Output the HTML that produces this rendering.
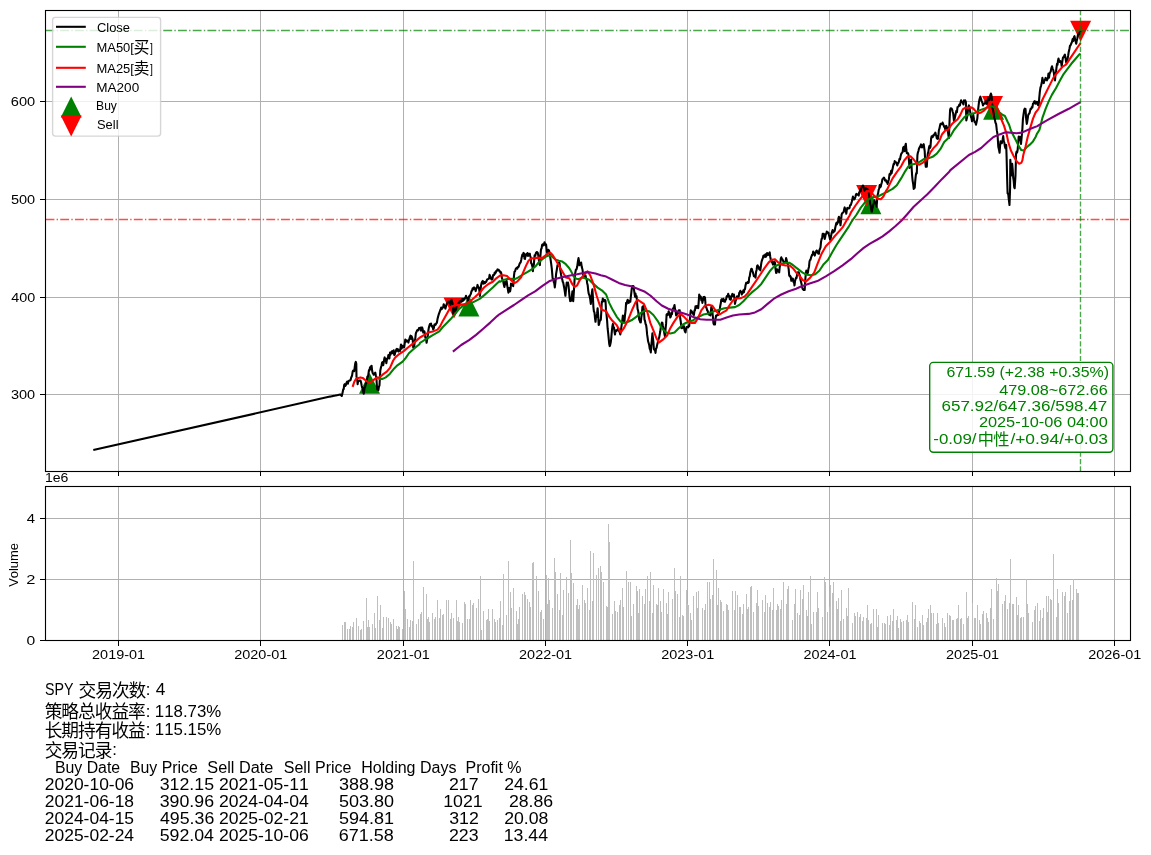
<!DOCTYPE html><html><head><meta charset="utf-8"><style>html,body{margin:0;padding:0;background:#fff}svg{display:block;will-change:transform}</style></head><body><svg width="1151" height="855" viewBox="0 0 1151 855" font-family="Liberation Sans, sans-serif" style="font-kerning:none">
<rect width="1151" height="855" fill="#fff"/>
<defs><clipPath id="c1"><rect x="46" y="11" width="1084" height="460.5"/></clipPath><clipPath id="c2"><rect x="46" y="487" width="1084" height="153"/></clipPath></defs>
<g clip-path="url(#c1)">
<line x1="118.5" y1="10" x2="118.5" y2="471" stroke="#b0b0b0" stroke-width="1" shape-rendering="crispEdges"/>
<line x1="260.5" y1="10" x2="260.5" y2="471" stroke="#b0b0b0" stroke-width="1" shape-rendering="crispEdges"/>
<line x1="403.5" y1="10" x2="403.5" y2="471" stroke="#b0b0b0" stroke-width="1" shape-rendering="crispEdges"/>
<line x1="545.5" y1="10" x2="545.5" y2="471" stroke="#b0b0b0" stroke-width="1" shape-rendering="crispEdges"/>
<line x1="687.5" y1="10" x2="687.5" y2="471" stroke="#b0b0b0" stroke-width="1" shape-rendering="crispEdges"/>
<line x1="829.5" y1="10" x2="829.5" y2="471" stroke="#b0b0b0" stroke-width="1" shape-rendering="crispEdges"/>
<line x1="972.5" y1="10" x2="972.5" y2="471" stroke="#b0b0b0" stroke-width="1" shape-rendering="crispEdges"/>
<line x1="1114.5" y1="10" x2="1114.5" y2="471" stroke="#b0b0b0" stroke-width="1" shape-rendering="crispEdges"/>
<line x1="45" y1="101.5" x2="1131" y2="101.5" stroke="#b0b0b0" stroke-width="1" shape-rendering="crispEdges"/>
<line x1="45" y1="199.5" x2="1131" y2="199.5" stroke="#b0b0b0" stroke-width="1" shape-rendering="crispEdges"/>
<line x1="45" y1="297.5" x2="1131" y2="297.5" stroke="#b0b0b0" stroke-width="1" shape-rendering="crispEdges"/>
<line x1="45" y1="394.5" x2="1131" y2="394.5" stroke="#b0b0b0" stroke-width="1" shape-rendering="crispEdges"/>
<polygon points="369.5,372.7 359.0,393.7 380.0,393.7" fill="#008000"/>
<polygon points="468.9,295.5 458.4,316.5 479.4,316.5" fill="#008000"/>
<polygon points="870.9,193.3 860.4,214.3 881.4,214.3" fill="#008000"/>
<polygon points="993.6,98.7 983.1,119.7 1004.1,119.7" fill="#008000"/>
<polygon points="454.0,318.5 443.5,297.5 464.5,297.5" fill="#ff0000"/>
<polygon points="866.6,206.1 856.1,185.1 877.1,185.1" fill="#ff0000"/>
<polygon points="992.5,117.0 982.0,96.0 1003.0,96.0" fill="#ff0000"/>
<polygon points="1080.6,41.8 1070.1,20.8 1091.1,20.8" fill="#ff0000"/>
<path d="M93.3,450.1 L330.0,396.6 L330.6,396.5 L331.1,396.4 L331.7,396.3 L332.2,396.2 L332.8,396.0 L333.3,395.9 L333.9,395.8 L334.4,395.7 L335.0,395.6 L335.5,395.5 L336.1,395.4 L336.6,395.3 L337.2,395.2 L337.7,395.1 L338.3,394.9 L338.8,394.8 L339.4,394.7 L339.9,394.6 L340.5,394.5 L341.1,395.2 L341.8,396.0 L342.5,392.9 L343.2,389.5 L343.7,389.2 L344.2,384.8 L344.7,384.2 L345.2,385.9 L345.8,385.3 L346.3,383.4 L346.8,382.1 L347.3,381.5 L347.9,383.7 L348.4,381.3 L349.0,380.8 L349.5,380.5 L350.0,380.5 L350.6,380.0 L351.1,377.7 L351.6,376.8 L352.1,375.4 L352.7,371.4 L353.2,370.5 L353.7,370.4 L354.2,371.1 L354.8,366.6 L355.3,363.2 L355.8,361.9 L356.3,363.7 L356.5,376.8 L357.1,378.7 L357.6,384.2 L358.2,380.7 L358.9,381.1 L359.4,380.6 L360.0,380.5 L360.5,380.5 L361.1,382.5 L361.6,385.3 L362.1,387.5 L362.6,387.9 L363.2,391.5 L363.7,393.7 L364.2,390.8 L364.7,387.4 L365.2,386.9 L365.8,383.6 L366.3,383.2 L366.8,380.6 L367.4,376.5 L367.9,376.8 L368.4,374.1 L369.0,370.0 L369.5,370.5 L370.0,367.4 L370.6,369.0 L371.1,366.3 L371.6,365.8 L372.1,370.5 L372.6,372.9 L373.2,373.7 L373.7,374.7 L374.2,373.6 L374.8,373.9 L375.3,372.6 L375.8,375.3 L376.3,376.8 L376.8,384.4 L377.2,389.5 L377.8,389.5 L378.4,390.0 L378.9,386.9 L379.5,385.3 L380.3,370.5 L381.0,367.2 L381.6,365.3 L382.1,362.5 L382.6,362.1 L383.2,365.3 L383.7,362.6 L384.2,359.1 L384.7,357.4 L385.2,360.6 L385.8,359.0 L386.3,363.2 L386.9,359.7 L387.4,358.9 L387.9,357.1 L388.4,355.0 L388.9,356.8 L389.4,358.4 L390.0,352.5 L390.5,354.7 L391.0,353.2 L391.6,351.7 L392.1,351.1 L392.6,353.3 L393.2,351.6 L393.7,350.3 L394.2,355.0 L394.7,354.7 L395.2,352.4 L395.8,351.6 L396.3,349.5 L396.8,348.9 L397.3,350.6 L397.9,349.3 L398.4,351.6 L398.9,350.6 L399.4,350.2 L400.0,351.0 L400.5,347.9 L401.0,344.5 L401.6,348.7 L402.1,347.5 L402.6,345.8 L403.1,345.8 L403.7,347.2 L404.2,347.4 L404.8,342.9 L405.3,339.5 L405.8,341.9 L406.4,340.6 L406.9,340.4 L407.4,341.1 L407.9,341.6 L408.4,342.6 L408.9,340.4 L409.5,338.5 L410.0,336.8 L410.5,335.6 L411.1,338.9 L411.6,336.3 L412.1,337.7 L412.7,339.4 L413.2,347.4 L413.7,346.7 L414.2,346.3 L414.7,341.9 L415.3,338.3 L415.8,333.7 L416.3,332.2 L416.9,331.1 L417.4,330.0 L417.9,329.9 L418.4,330.3 L419.0,328.1 L419.5,328.2 L420.0,327.9 L420.5,327.6 L421.0,330.6 L421.6,329.1 L422.1,327.4 L422.6,328.8 L423.2,332.5 L423.8,331.5 L424.4,331.4 L424.9,333.7 L425.3,337.5 L426.0,338.7 L426.6,342.8 L427.2,339.2 L427.9,334.9 L428.4,330.4 L428.8,327.9 L429.4,325.5 L429.9,324.1 L430.4,324.0 L431.0,323.5 L431.6,326.4 L432.1,326.0 L432.6,326.3 L433.2,329.6 L433.9,327.8 L434.5,324.4 L435.1,324.2 L435.6,324.8 L436.2,323.5 L436.9,322.7 L437.5,319.1 L438.2,316.3 L438.9,313.9 L439.5,312.3 L440.0,310.9 L440.6,309.5 L441.2,307.5 L441.8,309.1 L442.4,307.7 L443.0,307.6 L443.7,304.2 L444.3,305.9 L444.8,306.8 L445.4,308.6 L446.0,306.5 L446.6,304.1 L447.2,303.3 L447.8,301.8 L448.3,301.7 L448.9,301.6 L449.4,301.8 L449.8,303.4 L450.3,305.1 L451.0,300.6 L451.6,299.8 L452.1,302.0 L452.6,303.3 L453.3,313.9 L454.0,310.9 L454.6,307.7 L455.3,308.1 L456.0,311.2 L456.6,305.4 L457.3,305.1 L458.0,304.0 L458.6,302.9 L459.1,303.9 L459.6,301.3 L460.2,301.2 L460.7,300.8 L461.2,301.1 L461.7,301.4 L462.3,299.1 L462.8,301.0 L463.4,299.0 L463.9,298.9 L464.4,299.7 L464.9,298.3 L465.5,297.6 L466.0,295.8 L466.5,297.2 L467.1,298.1 L467.8,300.7 L468.5,298.2 L469.1,296.3 L469.7,296.2 L470.3,294.9 L470.9,293.7 L471.5,291.1 L472.0,290.7 L472.6,288.4 L473.2,289.3 L473.8,287.6 L474.4,287.5 L475.0,288.8 L475.7,291.1 L476.3,288.6 L476.9,287.9 L477.5,284.9 L478.1,286.8 L478.8,287.5 L479.4,290.6 L479.9,295.9 L480.4,291.3 L481.0,285.8 L481.6,283.0 L482.3,281.4 L482.8,280.9 L483.3,283.6 L483.9,283.5 L484.4,282.0 L484.9,283.2 L485.5,282.4 L486.1,282.0 L486.7,280.5 L487.3,279.2 L487.8,279.2 L488.4,278.8 L489.0,278.7 L489.6,274.9 L490.2,276.1 L490.8,277.7 L491.3,279.3 L491.9,279.6 L492.5,278.8 L493.1,275.1 L493.7,275.3 L494.2,274.8 L494.7,272.5 L495.3,273.3 L495.8,272.5 L496.3,270.9 L496.9,270.9 L497.5,269.4 L498.1,270.0 L498.8,269.9 L499.4,271.3 L500.0,271.2 L500.4,272.7 L500.9,272.1 L501.4,273.7 L501.8,277.4 L502.5,279.7 L503.1,280.9 L503.8,284.6 L504.4,287.0 L504.9,284.1 L505.3,281.8 L506.0,284.2 L506.6,280.9 L507.2,285.3 L507.9,289.6 L508.4,292.6 L509.0,288.1 L509.6,288.3 L510.1,291.4 L510.6,288.6 L511.0,283.5 L511.6,284.9 L512.1,284.4 L512.7,285.4 L513.2,286.1 L514.0,275.6 L514.5,271.6 L515.1,271.3 L515.7,269.1 L516.2,268.6 L516.7,267.8 L517.3,268.6 L517.8,267.1 L518.4,267.0 L518.9,266.0 L519.5,264.0 L520.0,263.1 L520.6,262.5 L521.2,260.0 L521.8,256.9 L522.4,254.6 L523.0,255.8 L523.5,252.9 L524.1,253.7 L524.5,258.6 L525.0,258.9 L525.6,255.3 L526.3,254.1 L526.9,255.3 L527.5,253.0 L528.0,255.9 L528.6,254.0 L529.2,254.2 L529.8,253.7 L530.2,256.3 L530.7,257.2 L531.1,263.3 L531.5,263.4 L532.0,265.1 L532.5,266.9 L532.9,271.2 L533.3,265.7 L533.8,265.1 L534.6,255.4 L535.3,255.6 L536.0,252.8 L536.6,252.0 L537.1,252.1 L537.7,252.8 L538.2,255.0 L538.6,257.2 L539.2,263.5 L539.9,265.1 L540.5,254.6 L541.0,249.3 L541.6,248.4 L542.1,244.9 L542.7,244.3 L543.3,245.3 L543.9,244.5 L544.5,242.3 L545.0,244.0 L545.5,245.5 L546.1,244.5 L546.9,251.9 L547.5,253.4 L548.0,253.2 L548.5,249.9 L549.1,250.6 L549.8,254.4 L550.4,258.1 L551.1,263.2 L551.8,268.6 L552.6,278.2 L553.2,278.7 L553.9,282.6 L554.3,283.3 L554.8,287.5 L555.5,281.6 L556.1,273.9 L556.8,269.8 L557.5,265.1 L558.0,264.5 L558.5,265.7 L559.1,262.5 L559.6,263.3 L560.0,267.9 L560.5,271.2 L561.1,274.7 L561.8,278.2 L562.3,279.6 L562.7,281.7 L563.2,282.6 L563.9,286.3 L564.5,289.6 L565.0,293.0 L565.4,295.8 L566.0,289.5 L566.7,282.6 L567.4,284.9 L568.0,282.6 L568.5,285.7 L568.9,289.6 L569.5,296.6 L570.2,301.1 L570.9,300.9 L571.5,299.3 L572.0,294.9 L572.4,291.4 L573.2,301.1 L573.9,291.1 L574.6,279.1 L575.2,273.3 L575.9,269.5 L576.5,269.5 L577.2,266.8 L577.9,261.5 L578.5,258.1 L579.0,261.0 L579.4,265.1 L580.0,264.6 L580.5,264.4 L581.1,262.5 L581.8,267.1 L582.5,269.5 L583.1,274.5 L583.8,277.4 L584.4,276.2 L585.0,275.5 L585.5,275.4 L586.1,278.3 L586.6,278.7 L587.1,282.9 L587.7,285.3 L588.2,290.3 L588.7,293.6 L589.2,294.7 L589.7,296.6 L590.2,299.1 L590.8,303.9 L591.3,299.5 L591.9,292.5 L592.4,289.2 L592.9,297.1 L593.4,307.1 L593.9,311.3 L594.5,312.6 L595.0,318.2 L595.5,321.8 L596.0,317.4 L596.6,317.1 L597.1,313.4 L597.6,308.2 L598.2,315.7 L598.7,325.0 L599.2,323.9 L599.8,320.5 L600.3,320.6 L600.8,319.7 L601.3,311.9 L601.8,301.8 L602.3,301.8 L602.8,298.5 L603.4,301.3 L603.9,299.7 L604.4,301.1 L605.0,300.0 L605.5,300.8 L606.0,309.9 L606.6,315.5 L607.1,320.6 L607.6,328.2 L608.2,333.3 L608.7,338.7 L609.2,343.7 L609.7,346.1 L610.2,344.8 L610.8,342.0 L611.3,337.6 L611.8,331.7 L612.4,326.3 L612.9,323.9 L613.4,327.0 L614.0,327.5 L614.5,331.7 L615.0,334.5 L615.5,330.9 L616.1,330.3 L616.6,331.0 L617.2,330.2 L617.7,329.4 L618.2,328.2 L618.7,329.8 L619.2,331.4 L619.8,332.6 L620.3,334.5 L620.8,331.4 L621.3,327.7 L621.8,323.9 L622.3,320.3 L622.9,315.5 L623.4,316.8 L624.0,321.3 L624.5,320.8 L625.0,315.2 L625.6,310.5 L626.1,302.9 L626.6,304.1 L627.2,301.0 L627.7,299.7 L628.2,301.3 L628.7,302.9 L629.2,301.1 L629.8,301.8 L630.3,301.8 L630.8,297.0 L631.3,292.9 L631.8,288.2 L632.3,286.1 L632.9,286.7 L633.4,286.1 L633.9,289.0 L634.5,293.1 L635.0,296.6 L635.5,293.6 L636.1,297.3 L636.6,296.1 L637.1,303.0 L637.6,309.2 L638.1,310.6 L638.7,315.3 L639.2,319.7 L639.7,320.6 L640.3,322.3 L640.8,322.4 L641.3,317.3 L641.9,313.9 L642.4,307.1 L642.9,306.6 L643.4,306.1 L644.0,311.7 L644.5,319.7 L645.0,320.7 L645.6,324.1 L646.1,325.0 L646.6,328.5 L647.1,334.4 L647.6,337.6 L648.1,341.3 L648.7,343.2 L649.2,345.0 L649.7,348.7 L650.3,349.7 L650.8,352.4 L651.3,346.1 L651.9,339.0 L652.4,333.4 L652.9,337.9 L653.4,342.1 L653.9,349.2 L654.4,349.8 L655.0,350.4 L655.5,352.9 L656.0,348.6 L656.6,347.8 L657.1,345.0 L657.6,343.4 L658.2,340.4 L658.7,338.7 L659.2,337.4 L659.8,334.0 L660.3,331.3 L660.8,327.1 L661.3,325.0 L661.9,322.5 L662.4,322.9 L662.9,326.0 L663.4,328.2 L663.9,330.3 L664.5,334.3 L665.0,336.6 L665.5,329.7 L666.1,323.4 L666.6,314.5 L667.1,314.0 L667.6,315.1 L668.2,313.1 L668.7,311.2 L669.2,313.9 L669.7,314.3 L670.3,317.5 L670.8,316.6 L671.3,312.8 L671.9,314.3 L672.4,311.3 L672.9,308.9 L673.5,307.7 L674.0,306.6 L674.5,305.0 L675.0,308.8 L675.6,310.8 L676.1,315.5 L676.6,314.6 L677.1,314.0 L677.6,312.4 L678.1,312.9 L678.7,310.4 L679.2,312.7 L679.7,310.3 L680.2,318.3 L680.8,321.8 L681.3,327.9 L681.8,328.2 L682.3,326.2 L682.9,327.7 L683.4,327.1 L683.9,326.2 L684.5,330.2 L685.0,331.7 L685.5,332.4 L686.0,329.3 L686.6,327.0 L687.1,327.1 L687.6,327.1 L688.2,327.4 L688.7,325.4 L689.2,326.1 L689.8,320.0 L690.3,314.5 L690.8,310.4 L691.3,311.5 L691.8,311.3 L692.3,312.5 L692.9,313.6 L693.4,314.5 L693.9,315.0 L694.5,310.3 L695.0,310.3 L695.5,306.2 L696.1,308.0 L696.6,306.1 L697.1,306.1 L697.7,307.8 L698.2,308.2 L698.7,302.2 L699.2,294.5 L699.7,295.9 L700.3,297.6 L700.8,296.6 L701.3,300.3 L701.9,298.8 L702.4,302.9 L702.9,299.9 L703.4,297.1 L703.9,299.7 L704.5,296.9 L705.0,297.6 L705.5,303.9 L706.0,307.2 L706.6,308.1 L707.1,310.3 L707.6,310.5 L708.2,313.6 L708.7,312.4 L709.2,314.7 L709.8,314.2 L710.3,315.5 L710.8,312.4 L711.3,307.1 L711.8,308.2 L712.4,312.4 L712.9,316.8 L713.4,322.9 L713.9,324.5 L714.5,324.0 L715.0,324.5 L715.5,318.7 L716.1,315.5 L716.6,315.7 L717.1,315.2 L717.6,314.5 L718.1,315.0 L718.7,313.5 L719.2,311.0 L719.7,310.3 L720.2,306.2 L720.8,303.1 L721.3,299.7 L721.8,299.2 L722.3,301.0 L722.9,300.9 L723.4,298.7 L723.9,301.4 L724.5,301.2 L725.0,301.8 L725.5,299.8 L726.1,299.4 L726.6,296.6 L727.1,295.9 L727.7,296.3 L728.2,293.8 L728.7,295.5 L729.2,296.0 L729.8,299.3 L730.3,297.4 L730.8,299.7 L731.3,296.0 L731.9,295.6 L732.4,293.9 L732.9,296.1 L733.4,296.0 L733.9,294.5 L734.5,298.8 L735.0,303.9 L735.5,301.2 L736.1,299.6 L736.6,297.6 L737.1,296.2 L737.7,297.1 L738.2,296.5 L738.7,296.6 L739.2,292.9 L739.8,292.0 L740.3,290.8 L740.8,291.7 L741.3,292.2 L741.8,294.5 L742.3,291.8 L742.9,292.8 L743.4,290.3 L743.9,292.2 L744.5,289.2 L745.0,289.2 L745.5,285.5 L746.1,282.9 L746.6,283.5 L747.2,282.6 L747.7,282.0 L748.2,282.9 L748.7,282.5 L749.2,277.5 L749.7,276.6 L750.2,273.1 L750.8,270.5 L751.3,268.7 L751.8,268.9 L752.4,270.9 L752.9,272.4 L753.4,274.1 L753.9,276.2 L754.5,276.3 L755.0,276.6 L755.5,277.6 L756.0,272.3 L756.6,269.9 L757.1,266.1 L757.6,265.3 L758.2,266.6 L758.7,267.1 L759.2,269.3 L759.8,269.5 L760.3,270.3 L760.8,266.9 L761.3,263.1 L761.8,260.8 L762.3,259.4 L762.8,258.3 L763.4,255.7 L763.9,255.5 L764.5,255.2 L765.0,257.1 L765.5,254.3 L766.1,256.6 L766.6,255.0 L767.1,253.1 L767.6,253.4 L768.1,255.0 L768.7,253.6 L769.2,253.3 L769.7,252.4 L770.2,256.5 L770.8,259.7 L771.3,261.2 L771.8,262.5 L772.4,261.4 L772.9,264.5 L773.4,264.4 L774.0,264.4 L774.5,261.6 L775.0,262.9 L775.5,268.9 L776.1,272.9 L776.6,272.8 L777.1,269.3 L777.6,270.3 L778.1,270.4 L778.7,271.3 L779.2,272.4 L779.7,267.2 L780.3,263.7 L780.8,258.7 L781.3,257.3 L781.9,258.8 L782.4,259.2 L782.9,260.4 L783.5,261.9 L784.0,262.0 L784.5,262.9 L785.0,261.8 L785.5,262.1 L786.1,258.1 L786.6,259.7 L787.1,263.0 L787.7,263.6 L788.2,266.1 L788.7,269.3 L789.2,275.5 L789.7,276.3 L790.2,275.9 L790.8,277.0 L791.3,280.8 L791.8,279.7 L792.4,278.5 L792.9,278.7 L793.4,281.8 L794.0,282.2 L794.5,285.5 L795.0,281.3 L795.6,279.1 L796.1,277.6 L796.6,277.9 L797.1,274.2 L797.6,272.4 L798.1,272.2 L798.7,272.2 L799.2,273.9 L799.9,275.6 L800.5,280.0 L801.0,281.7 L801.6,284.3 L802.1,287.1 L802.7,289.0 L803.2,289.5 L803.7,290.0 L804.2,289.0 L804.7,290.0 L805.2,280.8 L805.8,273.7 L806.3,270.6 L806.8,271.9 L807.4,273.4 L807.9,272.6 L808.4,269.0 L809.0,266.7 L809.5,261.5 L810.0,260.0 L810.5,259.8 L811.0,257.7 L811.6,256.1 L812.1,254.7 L812.6,254.9 L813.2,251.5 L813.7,253.3 L814.2,252.6 L814.8,255.6 L815.3,253.2 L815.8,252.1 L816.3,250.8 L816.8,250.5 L817.3,252.6 L817.9,251.4 L818.4,253.7 L818.9,253.8 L819.5,249.7 L820.0,248.9 L820.5,247.4 L821.0,242.1 L821.6,238.9 L822.1,238.6 L822.7,233.7 L823.2,235.8 L823.7,233.7 L824.2,235.3 L824.7,238.9 L825.2,237.1 L825.8,233.9 L826.3,233.7 L826.8,231.6 L827.3,232.2 L827.9,233.0 L828.4,232.6 L828.9,234.8 L829.5,237.0 L830.0,239.3 L830.5,240.0 L831.0,236.7 L831.6,233.0 L832.1,231.6 L832.6,230.1 L833.2,232.4 L833.7,231.1 L834.2,231.6 L834.7,230.8 L835.3,227.5 L835.8,225.3 L836.3,223.0 L836.9,224.3 L837.4,222.1 L837.9,222.7 L838.4,218.3 L838.9,216.8 L839.4,218.5 L840.0,221.5 L840.5,225.3 L841.0,221.1 L841.6,214.7 L842.1,213.3 L842.7,212.8 L843.2,212.6 L843.7,211.7 L844.2,209.1 L844.7,207.4 L845.2,209.6 L845.8,210.9 L846.3,213.7 L846.8,210.0 L847.4,207.9 L847.9,208.3 L848.4,208.4 L848.9,208.4 L849.5,207.9 L850.1,205.3 L850.7,205.1 L851.3,203.4 L851.8,201.7 L852.4,199.0 L852.9,196.6 L853.4,198.2 L854.0,199.5 L854.5,199.2 L855.0,198.1 L855.5,196.6 L856.1,194.1 L856.6,193.9 L857.1,194.7 L857.7,194.6 L858.2,194.7 L858.7,195.5 L859.2,192.2 L859.8,191.7 L860.3,188.7 L860.8,191.1 L861.3,187.9 L861.9,186.9 L862.4,186.7 L862.9,185.5 L863.4,186.6 L864.0,189.1 L864.5,190.8 L865.0,189.1 L865.6,188.3 L866.1,188.2 L866.6,188.9 L867.2,189.2 L867.7,189.2 L868.2,189.7 L868.7,191.9 L869.2,196.1 L869.8,200.6 L870.3,204.5 L870.8,205.6 L871.3,210.3 L871.8,211.8 L872.3,209.0 L872.9,206.9 L873.4,204.5 L874.0,203.3 L874.5,200.3 L875.0,202.0 L875.5,202.4 L876.0,202.9 L876.6,206.6 L877.1,200.5 L877.6,195.0 L878.1,193.3 L878.7,189.5 L879.2,188.7 L879.7,185.1 L880.3,187.2 L880.8,186.6 L881.3,184.1 L881.9,182.2 L882.4,179.2 L882.9,178.8 L883.4,178.3 L883.9,177.6 L884.5,178.6 L885.0,180.6 L885.5,180.2 L886.1,180.3 L886.6,182.2 L887.1,182.2 L887.6,183.9 L888.2,181.6 L888.9,179.2 L889.5,174.2 L890.0,173.7 L890.5,174.6 L891.1,170.9 L891.6,173.2 L892.1,171.0 L892.7,168.2 L893.2,165.8 L893.7,163.7 L894.2,164.2 L894.7,161.1 L895.2,162.2 L895.8,162.2 L896.3,162.4 L896.8,163.7 L897.3,165.4 L897.8,163.5 L898.4,162.9 L898.9,161.6 L899.5,158.8 L900.0,159.5 L900.5,156.7 L901.1,154.2 L901.6,153.2 L902.1,152.7 L902.6,152.1 L903.2,147.5 L903.7,146.8 L904.2,149.7 L904.7,151.1 L905.2,146.1 L905.8,143.7 L906.3,149.5 L906.8,153.2 L907.3,153.0 L907.9,153.1 L908.4,154.2 L909.0,161.5 L909.5,167.9 L910.0,165.4 L910.6,160.9 L911.1,159.5 L911.6,167.3 L912.1,175.3 L912.6,180.6 L913.2,184.1 L913.7,188.9 L914.2,186.8 L914.7,187.9 L915.2,181.3 L915.8,175.3 L916.3,173.1 L916.8,173.2 L917.4,155.3 L917.9,152.5 L918.4,151.1 L918.9,148.9 L919.4,147.8 L920.0,146.6 L920.5,145.8 L921.0,144.4 L921.6,147.3 L922.1,147.4 L922.6,146.1 L923.2,144.8 L923.7,144.2 L924.2,147.8 L924.7,151.1 L925.2,161.3 L925.8,166.8 L926.3,165.3 L926.8,166.8 L927.3,158.1 L927.9,153.2 L928.4,151.6 L929.0,147.3 L929.5,145.8 L930.0,147.9 L930.5,146.8 L931.1,138.4 L931.6,136.4 L932.2,136.3 L932.7,137.1 L933.2,135.3 L933.7,135.7 L934.2,134.5 L934.8,133.8 L935.3,132.6 L935.8,134.4 L936.3,135.9 L936.8,138.4 L937.3,138.4 L937.9,138.9 L938.4,136.0 L938.9,130.0 L939.4,128.7 L940.0,125.8 L940.5,123.7 L941.0,123.8 L941.5,124.1 L942.1,124.3 L942.6,122.6 L943.1,123.8 L943.7,125.3 L944.2,126.8 L944.7,126.9 L945.2,129.4 L945.8,126.3 L946.3,125.8 L946.8,129.1 L947.4,127.5 L947.9,131.1 L948.4,135.5 L948.9,137.9 L949.5,122.2 L950.1,109.8 L950.7,108.2 L951.2,108.4 L951.8,108.9 L952.3,110.2 L952.7,112.0 L953.2,113.3 L954.0,121.2 L954.6,119.0 L955.2,116.2 L955.8,113.3 L956.4,110.7 L956.9,112.3 L957.5,107.2 L958.1,106.8 L958.7,106.3 L959.3,104.6 L959.9,105.5 L960.5,102.8 L961.1,100.2 L961.7,101.8 L962.2,102.3 L962.8,102.8 L963.4,104.5 L964.0,100.4 L964.6,101.1 L965.2,100.4 L965.9,101.9 L966.3,120.4 L967.0,117.5 L967.6,114.2 L968.2,107.4 L968.9,105.4 L969.6,108.0 L970.3,112.5 L970.9,116.7 L971.4,117.8 L972.0,121.2 L972.6,118.3 L973.3,115.1 L974.0,119.4 L974.6,122.1 L975.3,122.0 L976.0,124.7 L976.6,122.0 L977.3,118.6 L977.8,113.0 L978.2,108.9 L978.9,102.8 L979.5,99.3 L980.0,97.7 L980.4,96.7 L981.0,98.8 L981.7,101.1 L982.4,102.8 L983.0,105.4 L983.6,103.8 L984.3,103.7 L985.0,103.5 L985.6,101.1 L986.2,103.8 L986.9,103.7 L987.5,101.3 L988.2,97.5 L988.9,98.7 L989.6,100.2 L990.2,95.6 L990.9,93.6 L991.3,94.6 L991.8,97.5 L992.6,108.9 L993.2,110.7 L993.9,115.1 L994.3,117.5 L994.8,119.5 L995.5,122.8 L996.1,123.9 L996.8,130.2 L997.5,134.4 L998.3,146.7 L999.0,149.7 L999.6,152.8 L1000.0,146.6 L1000.5,141.4 L1001.1,142.5 L1001.8,143.2 L1002.3,141.0 L1002.7,139.2 L1003.2,136.1 L1003.8,141.4 L1004.3,142.4 L1004.9,146.7 L1005.5,148.3 L1006.2,144.9 L1006.6,156.6 L1007.1,177.6 L1007.6,193.4 L1008.2,193.6 L1008.7,198.7 L1009.5,205.0 L1010.1,188.2 L1010.3,159.7 L1010.8,165.5 L1011.3,175.5 L1011.8,167.9 L1012.2,163.9 L1012.7,169.5 L1013.2,177.6 L1013.7,180.9 L1014.2,187.1 L1014.7,188.2 L1015.5,175.5 L1016.1,153.4 L1016.6,151.5 L1017.1,152.6 L1017.6,150.3 L1018.2,143.0 L1018.7,136.6 L1019.2,137.5 L1019.8,136.8 L1020.3,138.7 L1021.0,143.9 L1021.8,135.5 L1022.3,130.2 L1022.9,119.5 L1023.5,114.6 L1024.2,109.8 L1024.8,108.6 L1025.5,108.9 L1026.2,119.1 L1026.8,123.9 L1027.3,121.2 L1027.7,118.5 L1028.2,115.1 L1028.8,114.0 L1029.5,113.3 L1030.1,110.8 L1030.6,108.7 L1031.2,108.9 L1031.8,107.0 L1032.4,107.4 L1033.0,103.7 L1033.6,103.3 L1034.1,101.8 L1034.7,101.1 L1035.4,103.7 L1036.1,103.7 L1036.8,101.7 L1037.4,101.9 L1038.1,105.3 L1038.7,105.4 L1039.2,98.7 L1039.8,92.1 L1040.4,87.9 L1041.1,85.6 L1041.8,82.6 L1042.4,77.9 L1043.1,81.1 L1043.7,83.1 L1044.3,81.0 L1045.0,79.9 L1045.6,77.9 L1046.2,79.5 L1046.9,80.4 L1047.5,79.2 L1048.0,76.9 L1048.5,73.5 L1049.0,77.8 L1049.5,74.1 L1050.1,72.5 L1050.7,71.5 L1051.3,68.4 L1052.0,66.3 L1052.7,68.8 L1053.3,70.2 L1053.9,73.1 L1054.4,78.3 L1055.0,80.5 L1055.5,74.7 L1056.0,71.7 L1056.5,67.6 L1057.0,63.9 L1057.5,64.9 L1058.0,60.6 L1058.5,58.6 L1059.1,60.8 L1059.8,62.0 L1060.4,61.2 L1061.1,62.3 L1061.7,66.3 L1062.3,61.5 L1063.0,57.3 L1063.6,57.3 L1064.3,55.6 L1064.9,54.7 L1065.6,58.4 L1066.2,62.5 L1066.8,61.3 L1067.5,59.3 L1068.1,56.0 L1068.7,51.9 L1069.4,49.0 L1070.0,45.7 L1070.5,45.5 L1071.0,44.1 L1071.5,43.0 L1072.0,41.9 L1072.6,39.1 L1073.2,41.1 L1073.9,37.3 L1074.5,36.1 L1075.1,39.0 L1075.6,41.2 L1076.2,43.8 L1076.7,41.1 L1077.3,38.4 L1077.8,35.4 L1078.4,33.5 L1078.9,34.0 L1079.5,34.1 L1080.0,32.3 L1080.6,30.9" fill="none" stroke="#000" stroke-width="2.08" stroke-linejoin="round" stroke-linecap="butt" />
<path d="M378.4,378.9 L382.6,378.9 L385.8,377.4 L390.0,373.7 L394.2,368.4 L397.4,365.3 L402.6,361.6 L405.8,357.9 L408.9,353.2 L414.2,348.4 L419.5,344.2 L420.0,342.8 L424.4,340.2 L428.8,337.5 L433.2,334.9 L439.3,331.4 L442.8,327.0 L446.3,323.5 L450.7,319.1 L455.1,313.9 L459.5,308.6 L463.9,305.1 L469.1,303.8 L474.4,301.6 L479.6,298.9 L484.0,295.4 L488.4,291.5 L492.8,287.5 L497.2,283.2 L499.4,281.2 L500.0,281.8 L503.5,280.0 L507.0,279.1 L510.5,278.7 L514.9,279.1 L518.4,277.4 L522.8,274.7 L527.2,272.1 L531.6,269.5 L535.1,266.8 L538.6,262.5 L542.1,259.4 L545.6,256.8 L549.1,255.4 L551.8,256.3 L555.3,259.4 L558.8,260.7 L562.3,261.6 L565.8,264.2 L569.3,268.2 L571.5,272.1 L573.7,276.5 L576.3,278.7 L578.9,279.1 L581.6,277.8 L584.2,277.8 L585.0,278.2 L589.2,279.7 L593.4,283.9 L597.6,287.6 L601.8,290.3 L606.1,294.5 L609.2,302.9 L612.4,309.2 L616.6,316.6 L620.8,321.8 L623.9,322.9 L628.2,321.8 L632.4,319.7 L636.6,316.6 L640.8,312.9 L645.0,310.8 L649.2,311.3 L653.4,315.0 L657.6,320.8 L661.8,328.2 L666.1,332.4 L670.3,333.4 L674.5,332.4 L678.7,328.2 L682.9,324.5 L688.2,321.8 L693.4,320.3 L695.0,318.7 L699.2,316.6 L703.4,314.5 L708.7,313.4 L713.9,311.3 L719.2,309.7 L724.5,308.2 L729.7,307.6 L735.0,307.1 L739.2,305.0 L743.4,301.3 L747.6,296.6 L751.8,292.4 L757.1,288.2 L761.3,283.9 L765.5,277.6 L769.7,271.3 L773.4,267.1 L777.1,265.2 L781.3,263.9 L785.5,262.7 L789.2,262.7 L792.9,265.0 L796.1,267.6 L802.6,272.6 L806.8,274.7 L811.1,275.3 L815.3,274.2 L819.5,270.5 L823.7,264.2 L827.9,260.0 L832.1,252.6 L836.3,245.3 L840.5,238.9 L844.7,232.6 L848.9,226.3 L852.4,220.3 L856.6,214.5 L860.8,207.6 L865.0,202.4 L869.2,198.7 L873.4,197.1 L877.6,196.6 L881.8,194.5 L886.1,192.4 L887.6,191.8 L888.4,191.1 L892.6,188.9 L896.8,185.3 L901.1,178.4 L905.3,171.1 L908.4,166.3 L911.6,164.5 L915.8,163.7 L920.0,161.6 L924.2,158.9 L928.4,158.4 L932.6,156.8 L936.8,153.7 L940.5,148.9 L944.2,142.1 L947.4,138.9 L950.5,136.1 L954.0,130.0 L957.5,125.6 L961.1,121.2 L964.6,116.8 L968.1,114.6 L971.6,113.8 L975.1,112.9 L978.6,110.7 L982.1,109.4 L985.6,108.1 L989.1,106.8 L991.8,106.3 L994.4,107.2 L997.0,109.4 L999.6,112.5 L1002.3,114.6 L1004.9,116.0 L1007.6,121.8 L1009.2,125.0 L1010.8,130.3 L1013.4,135.5 L1016.1,140.8 L1018.7,146.1 L1021.3,150.1 L1022.4,150.3 L1023.8,150.6 L1026.4,147.5 L1029.5,144.9 L1033.0,141.4 L1035.6,137.0 L1036.9,133.9 L1039.4,130.0 L1041.1,123.6 L1042.4,117.8 L1045.6,108.8 L1048.8,101.1 L1052.0,94.6 L1055.9,88.2 L1059.7,81.1 L1063.6,74.1 L1067.5,68.9 L1071.3,63.8 L1075.2,59.3 L1079.1,54.7 L1080.6,53.7" fill="none" stroke="#008000" stroke-width="2.08" stroke-linejoin="round" stroke-linecap="butt" />
<path d="M352.6,386.8 L354.2,382.1 L356.3,378.4 L360.5,377.4 L362.6,377.9 L365.8,380.5 L369.5,382.9 L372.1,381.1 L376.3,377.9 L379.5,377.4 L382.6,374.7 L386.8,371.6 L390.0,367.9 L393.2,360.5 L395.3,357.4 L398.4,354.7 L403.7,351.1 L408.9,346.8 L414.2,342.6 L419.5,337.9 L420.0,337.5 L424.4,334.9 L428.8,332.3 L433.2,331.4 L437.5,329.6 L440.2,326.1 L442.8,320.9 L446.3,314.7 L449.8,308.6 L452.5,306.0 L456.8,305.1 L462.1,304.6 L466.5,303.8 L470.9,300.7 L475.3,296.8 L479.6,292.8 L484.0,287.5 L488.4,284.0 L492.8,281.8 L496.3,278.3 L499.4,276.0 L500.0,275.6 L503.5,275.2 L507.0,276.1 L510.5,279.6 L514.5,283.1 L517.5,281.3 L521.1,277.4 L523.7,271.2 L526.3,265.1 L528.5,260.7 L531.1,258.5 L535.1,258.1 L538.6,257.6 L542.1,258.1 L545.6,255.4 L548.2,253.2 L550.4,252.8 L552.6,255.0 L556.1,260.7 L559.6,266.8 L563.2,273.0 L565.8,277.4 L569.3,278.2 L571.9,283.5 L574.6,287.0 L577.2,285.3 L579.8,280.0 L583.3,275.6 L585.0,273.4 L587.6,271.3 L590.3,275.5 L593.4,283.9 L596.6,295.5 L599.7,305.0 L601.8,309.7 L606.1,311.3 L609.2,316.6 L612.4,320.8 L616.6,325.0 L620.8,332.4 L623.9,328.2 L628.2,319.7 L632.4,309.2 L635.5,302.4 L637.6,299.7 L640.8,301.8 L643.9,303.9 L647.1,311.3 L650.3,322.9 L653.4,330.3 L656.6,338.7 L659.2,342.4 L662.9,339.7 L667.1,335.5 L670.3,328.2 L673.4,322.9 L677.6,316.6 L680.3,313.9 L683.9,316.6 L688.2,321.3 L691.3,322.9 L694.5,322.6 L695.0,322.9 L698.2,317.6 L701.3,310.3 L704.5,306.1 L708.7,304.8 L712.4,305.8 L716.1,311.3 L719.7,314.5 L722.9,312.4 L726.6,310.3 L729.7,305.0 L732.9,300.3 L736.1,298.5 L740.3,298.2 L744.5,296.6 L747.6,293.4 L751.8,287.1 L756.1,280.8 L760.3,274.5 L764.5,268.2 L768.7,262.4 L771.8,259.7 L775.0,259.2 L778.2,262.4 L781.3,264.5 L785.5,265.5 L789.7,265.5 L792.9,268.2 L796.1,272.4 L799.2,275.5 L802.6,280.0 L805.8,281.6 L810.0,277.9 L814.2,272.6 L817.4,264.2 L821.6,253.7 L825.8,246.3 L830.0,242.1 L834.2,236.8 L838.4,232.1 L842.6,227.4 L846.8,220.0 L849.5,215.8 L851.3,211.8 L855.5,205.5 L859.7,199.7 L863.9,194.5 L868.2,190.8 L871.3,192.4 L874.5,196.1 L877.6,198.7 L880.8,199.2 L883.4,196.6 L886.1,190.8 L887.6,188.7 L888.4,186.8 L892.6,178.4 L896.8,172.1 L901.1,166.3 L904.2,160.5 L907.4,156.8 L910.5,156.3 L913.7,159.5 L916.8,163.7 L919.5,164.7 L922.1,163.2 L925.3,160.5 L927.9,157.9 L930.5,152.1 L933.7,147.9 L936.8,144.7 L939.5,140.5 L942.1,134.2 L945.3,130.5 L948.4,129.5 L951.4,124.7 L954.0,122.1 L957.5,119.5 L960.2,115.1 L962.8,109.4 L965.4,107.6 L968.1,108.1 L970.7,107.2 L973.3,108.5 L976.0,111.6 L978.6,113.3 L981.2,112.5 L983.9,110.7 L986.5,108.1 L989.1,104.6 L991.8,101.9 L993.5,101.5 L996.1,105.4 L998.8,111.6 L1001.4,119.5 L1004.0,125.6 L1006.7,134.4 L1008.2,141.8 L1010.8,150.3 L1013.9,156.6 L1016.6,161.3 L1019.2,163.7 L1021.3,162.9 L1022.4,160.3 L1023.3,155.0 L1025.5,146.7 L1027.7,137.0 L1030.4,127.4 L1033.0,118.6 L1035.6,112.5 L1038.2,109.4 L1039.8,106.0 L1043.0,98.5 L1046.9,90.8 L1050.7,83.1 L1054.0,76.6 L1058.5,71.5 L1062.3,67.0 L1066.2,64.4 L1070.0,58.6 L1073.9,52.8 L1077.8,47.0 L1080.6,43.2" fill="none" stroke="#ff0000" stroke-width="2.08" stroke-linejoin="round" stroke-linecap="butt" />
<path d="M452.9,351.6 L461.2,345.0 L469.1,340.2 L476.1,334.9 L483.2,328.8 L490.2,322.6 L497.2,316.1 L499.4,314.3 L514.0,305.0 L521.1,300.2 L528.1,295.4 L535.1,291.4 L542.1,286.1 L549.1,281.3 L556.1,278.7 L563.2,276.9 L570.2,275.6 L577.2,274.3 L583.3,273.0 L585.0,272.4 L590.3,272.4 L595.5,273.4 L600.8,275.2 L606.1,276.6 L612.4,279.7 L618.7,282.9 L625.0,285.0 L632.4,286.6 L638.7,289.2 L645.0,291.8 L650.3,295.5 L656.6,301.3 L661.8,305.5 L668.2,308.7 L674.5,310.8 L680.8,312.4 L687.1,314.5 L693.4,317.1 L695.0,317.6 L700.3,319.2 L706.6,319.7 L713.9,319.7 L720.3,319.7 L726.6,317.6 L732.9,315.5 L739.2,314.5 L748.7,313.9 L755.0,312.4 L761.3,309.2 L767.6,303.9 L773.9,298.7 L781.3,294.5 L788.7,291.3 L796.1,288.7 L800.5,286.8 L808.9,283.7 L817.4,281.1 L825.8,276.3 L834.2,271.1 L842.6,265.3 L851.1,258.9 L857.4,253.2 L863.7,247.9 L870.0,243.7 L877.4,239.5 L882.6,236.3 L888.9,231.6 L895.3,226.3 L901.6,220.5 L906.8,214.7 L913.7,206.8 L921.1,200.0 L927.4,194.2 L934.7,186.8 L942.1,178.9 L949.5,171.6 L950.1,170.4 L968.9,155.0 L975.1,151.9 L981.2,148.0 L987.4,142.3 L993.5,137.0 L999.6,134.4 L1004.9,132.5 L1006.7,132.3 L1007.1,132.4 L1011.3,132.7 L1016.6,133.2 L1021.8,132.6 L1027.7,130.0 L1033.0,127.8 L1037.4,126.1 L1039.2,124.9 L1048.2,119.7 L1058.5,114.0 L1068.8,108.8 L1076.5,104.3 L1080.6,102.1" fill="none" stroke="#800080" stroke-width="2.08" stroke-linejoin="round" stroke-linecap="butt" />
<line x1="45.5" y1="30.5" x2="1130" y2="30.5" stroke="#008000" stroke-opacity="0.7" stroke-width="1.39" stroke-dasharray="8.89 2.22 1.39 2.22"/>
<line x1="45.5" y1="219.5" x2="1130" y2="219.5" stroke="#ff0000" stroke-opacity="0.7" stroke-width="1.39" stroke-dasharray="8.89 2.22 1.39 2.22"/>
<line x1="1080.5" y1="471.5" x2="1080.5" y2="10" stroke="#008000" stroke-opacity="0.7" stroke-width="1.39" stroke-dasharray="5.14 2.22"/>
</g>
<rect x="929.7" y="362.4" width="183.2" height="89.8" rx="3.6" fill="#fff" fill-opacity="0.85" stroke="#008000" stroke-width="1.39"/>
<text transform="translate(946.39,377.30) scale(1.0402,0.95)" font-size="15.28" fill="#008000">671.59 (+2.38 +0.35%)</text>
<text transform="translate(999.23,394.50) scale(1.0624,0.95)" font-size="15.28" fill="#008000">479.08~672.66</text>
<text transform="translate(941.43,410.60) scale(1.1159,0.95)" font-size="15.28" fill="#008000">657.92/647.36/598.47</text>
<text transform="translate(978.88,426.80) scale(1.0698,0.95)" font-size="15.28" fill="#008000">2025-10-06 04:00</text>
<text transform="translate(933.35,444.00) scale(1.1043,0.95)" font-size="15.28" fill="#008000">-0.09/</text>
<text x="977.84 993.14" y="444.92" font-size="16.2" fill="#008000" font-family="'Liberation Sans', 'Noto Sans CJK SC', sans-serif">中性</text>
<text transform="translate(1010.40,444.00) scale(1.1381,0.95)" font-size="15.28" fill="#008000">/+0.94/+0.03</text>
<rect x="45.5" y="10.5" width="1085.0" height="461.0" fill="none" stroke="#000" stroke-width="1.11"/>
<line x1="118.5" y1="472" x2="118.5" y2="476.4" stroke="#000" stroke-width="1" shape-rendering="crispEdges"/>
<line x1="260.5" y1="472" x2="260.5" y2="476.4" stroke="#000" stroke-width="1" shape-rendering="crispEdges"/>
<line x1="403.5" y1="472" x2="403.5" y2="476.4" stroke="#000" stroke-width="1" shape-rendering="crispEdges"/>
<line x1="545.5" y1="472" x2="545.5" y2="476.4" stroke="#000" stroke-width="1" shape-rendering="crispEdges"/>
<line x1="687.5" y1="472" x2="687.5" y2="476.4" stroke="#000" stroke-width="1" shape-rendering="crispEdges"/>
<line x1="829.5" y1="472" x2="829.5" y2="476.4" stroke="#000" stroke-width="1" shape-rendering="crispEdges"/>
<line x1="972.5" y1="472" x2="972.5" y2="476.4" stroke="#000" stroke-width="1" shape-rendering="crispEdges"/>
<line x1="1114.5" y1="472" x2="1114.5" y2="476.4" stroke="#000" stroke-width="1" shape-rendering="crispEdges"/>
<line x1="40.1" y1="101.5" x2="45" y2="101.5" stroke="#000" stroke-width="1" shape-rendering="crispEdges"/>
<text transform="translate(10.76,105.90) scale(1.0535,0.95)" font-size="13.89" fill="#000">600</text>
<line x1="40.1" y1="199.5" x2="45" y2="199.5" stroke="#000" stroke-width="1" shape-rendering="crispEdges"/>
<text transform="translate(10.92,203.90) scale(1.0464,0.95)" font-size="13.89" fill="#000">500</text>
<line x1="40.1" y1="297.5" x2="45" y2="297.5" stroke="#000" stroke-width="1" shape-rendering="crispEdges"/>
<text transform="translate(11.17,301.90) scale(1.0352,0.95)" font-size="13.89" fill="#000">400</text>
<line x1="40.1" y1="394.5" x2="45" y2="394.5" stroke="#000" stroke-width="1" shape-rendering="crispEdges"/>
<text transform="translate(10.95,398.90) scale(1.0451,0.95)" font-size="13.89" fill="#000">300</text>
<rect x="52.6" y="17.4" width="108" height="118.7" rx="2.8" fill="#fff" fill-opacity="0.8" stroke="#ccc" stroke-opacity="0.8" stroke-width="1.39"/>
<line x1="56" y1="26.8" x2="85.8" y2="26.8" stroke="#000" stroke-width="2.08"/>
<line x1="56" y1="46.8" x2="85.8" y2="46.8" stroke="#008000" stroke-width="2.08"/>
<line x1="56" y1="67.8" x2="85.8" y2="67.8" stroke="#ff0000" stroke-width="2.08"/>
<line x1="56" y1="86.8" x2="85.8" y2="86.8" stroke="#800080" stroke-width="2.08"/>
<polygon points="71.2,96.5 60.7,117.5 81.7,117.5" fill="#008000"/>
<polygon points="71.2,136.5 60.7,115.5 81.7,115.5" fill="#ff0000"/>
<text transform="translate(96.94,31.80) scale(0.9330,0.95)" font-size="13.89" fill="#000">Close</text>
<text transform="translate(96.44,51.90) scale(0.9333,0.95)" font-size="13.89" fill="#000">MA50[</text>
<text x="133.56" y="53.03" font-size="15.97" fill="#000" font-family="'Liberation Sans', 'Noto Sans CJK SC', sans-serif">买</text>
<text transform="translate(149.92,51.90) scale(0.7608,0.95)" font-size="13.89" fill="#000">]</text>
<text transform="translate(96.44,72.90) scale(0.9333,0.95)" font-size="13.89" fill="#000">MA25[</text>
<text x="133.56" y="74.03" font-size="15.97" fill="#000" font-family="'Liberation Sans', 'Noto Sans CJK SC', sans-serif">卖</text>
<text transform="translate(149.92,72.90) scale(0.7608,0.95)" font-size="13.89" fill="#000">]</text>
<text transform="translate(96.29,91.80) scale(0.9757,0.95)" font-size="13.89" fill="#000">MA200</text>
<text transform="translate(96.11,109.60) scale(0.8696,0.95)" font-size="13.89" fill="#000">Buy</text>
<text transform="translate(97.01,128.90) scale(0.9305,0.95)" font-size="13.89" fill="#000">Sell</text>
<g clip-path="url(#c2)">
<line x1="118.5" y1="486" x2="118.5" y2="641" stroke="#b0b0b0" stroke-width="1" shape-rendering="crispEdges"/>
<line x1="260.5" y1="486" x2="260.5" y2="641" stroke="#b0b0b0" stroke-width="1" shape-rendering="crispEdges"/>
<line x1="403.5" y1="486" x2="403.5" y2="641" stroke="#b0b0b0" stroke-width="1" shape-rendering="crispEdges"/>
<line x1="545.5" y1="486" x2="545.5" y2="641" stroke="#b0b0b0" stroke-width="1" shape-rendering="crispEdges"/>
<line x1="687.5" y1="486" x2="687.5" y2="641" stroke="#b0b0b0" stroke-width="1" shape-rendering="crispEdges"/>
<line x1="829.5" y1="486" x2="829.5" y2="641" stroke="#b0b0b0" stroke-width="1" shape-rendering="crispEdges"/>
<line x1="972.5" y1="486" x2="972.5" y2="641" stroke="#b0b0b0" stroke-width="1" shape-rendering="crispEdges"/>
<line x1="1114.5" y1="486" x2="1114.5" y2="641" stroke="#b0b0b0" stroke-width="1" shape-rendering="crispEdges"/>
<line x1="45" y1="518.5" x2="1131" y2="518.5" stroke="#b0b0b0" stroke-width="1" shape-rendering="crispEdges"/>
<line x1="45" y1="579.5" x2="1131" y2="579.5" stroke="#b0b0b0" stroke-width="1" shape-rendering="crispEdges"/>
<path d="M342.5,640V625M344.5,640V622M345.5,640V622M347.5,640V629M349.5,640V629M350.5,640V626M352.5,640V627M353.5,640V622M356.5,640V618M358.5,640V626M360.5,640V630M361.5,640V629M363.5,640V621M366.5,640V598M367.5,640V627M368.5,640V620M369.5,640V627M372.5,640V624M374.5,640V613M375.5,640V628M377.5,640V596M379.5,640V620M380.5,640V605M382.5,640V628M383.5,640V617M386.5,640V617M388.5,640V618M390.5,640V622M391.5,640V624M393.5,640V619M396.5,640V626M397.5,640V629M398.5,640V626M399.5,640V627M402.5,640V629M404.5,640V591M405.5,640V609M407.5,640V619M409.5,640V627M410.5,640V620M412.5,640V621M413.5,640V561M416.5,640V624M418.5,640V619M420.5,640V614M421.5,640V612M423.5,640V587M426.5,640V594M427.5,640V619M428.5,640V617M429.5,640V622M432.5,640V613M434.5,640V619M435.5,640V617M437.5,640V600M439.5,640V618M440.5,640V609M442.5,640V615M443.5,640V614M446.5,640V600M448.5,640V600M450.5,640V619M451.5,640V613M453.5,640V618M456.5,640V600M457.5,640V621M458.5,640V617M459.5,640V622M462.5,640V623M464.5,640V602M465.5,640V604M467.5,640V619M469.5,640V619M470.5,640V600M472.5,640V605M473.5,640V603M476.5,640V608M478.5,640V599M480.5,640V576M481.5,640V630M483.5,640V611M486.5,640V620M487.5,640V619M488.5,640V609M489.5,640V621M492.5,640V609M494.5,640V619M495.5,640V622M497.5,640V620M499.5,640V618M500.5,640V601M502.5,640V625M503.5,640V574M506.5,640V615M508.5,640V561M510.5,640V592M511.5,640V608M513.5,640V588M516.5,640V611M517.5,640V624M518.5,640V619M519.5,640V607M522.5,640V594M524.5,640V592M525.5,640V595M527.5,640V599M529.5,640V602M530.5,640V607M532.5,640V563M533.5,640V562M536.5,640V576M538.5,640V591M540.5,640V612M541.5,640V610M543.5,640V619M546.5,640V575M547.5,640V604M548.5,640V578M549.5,640V600M552.5,640V608M554.5,640V558M555.5,640V572M557.5,640V594M559.5,640V610M560.5,640V573M562.5,640V615M563.5,640V590M566.5,640V577M568.5,640V593M570.5,640V540M571.5,640V573M573.5,640V583M576.5,640V605M577.5,640V599M578.5,640V609M579.5,640V605M582.5,640V585M584.5,640V600M585.5,640V603M587.5,640V588M589.5,640V610M590.5,640V551M592.5,640V601M593.5,640V553M596.5,640V575M598.5,640V568M600.5,640V566M601.5,640V572M603.5,640V582M606.5,640V606M607.5,640V607M608.5,640V524M609.5,640V542M612.5,640V614M614.5,640V601M615.5,640V611M617.5,640V612M619.5,640V605M620.5,640V600M622.5,640V588M623.5,640V607M626.5,640V571M628.5,640V582M630.5,640V582M631.5,640V616M633.5,640V604M636.5,640V586M637.5,640V591M638.5,640V613M639.5,640V589M642.5,640V596M644.5,640V604M645.5,640V589M647.5,640V576M649.5,640V601M650.5,640V572M652.5,640V613M653.5,640V585M656.5,640V604M657.5,640V605M658.5,640V588M660.5,640V601M661.5,640V612M663.5,640V589M666.5,640V603M667.5,640V614M668.5,640V592M672.5,640V599M674.5,640V568M675.5,640V591M677.5,640V594M679.5,640V617M680.5,640V576M682.5,640V615M683.5,640V616M686.5,640V590M687.5,640V604M688.5,640V605M690.5,640V613M691.5,640V620M693.5,640V596M696.5,640V592M697.5,640V608M698.5,640V591M702.5,640V608M704.5,640V610M705.5,640V604M707.5,640V582M709.5,640V582M710.5,640V599M712.5,640V595M713.5,640V559M716.5,640V570M717.5,640V605M718.5,640V588M720.5,640V600M721.5,640V602M723.5,640V611M726.5,640V604M727.5,640V605M728.5,640V610M732.5,640V591M734.5,640V610M735.5,640V591M737.5,640V595M739.5,640V607M740.5,640V607M742.5,640V614M743.5,640V604M746.5,640V594M747.5,640V609M748.5,640V607M750.5,640V587M751.5,640V586M753.5,640V612M756.5,640V603M757.5,640V590M758.5,640V606M762.5,640V600M764.5,640V612M765.5,640V595M767.5,640V603M769.5,640V607M770.5,640V602M772.5,640V610M773.5,640V588M776.5,640V610M777.5,640V604M778.5,640V606M780.5,640V609M781.5,640V600M783.5,640V582M786.5,640V604M787.5,640V589M788.5,640V586M792.5,640V620M794.5,640V604M795.5,640V589M797.5,640V613M799.5,640V615M800.5,640V590M802.5,640V599M803.5,640V585M806.5,640V610M807.5,640V616M808.5,640V592M810.5,640V576M811.5,640V624M813.5,640V612M816.5,640V612M817.5,640V592M818.5,640V608M822.5,640V617M824.5,640V577M825.5,640V582M827.5,640V612M829.5,640V607M830.5,640V585M832.5,640V593M833.5,640V582M836.5,640V601M837.5,640V609M838.5,640V598M840.5,640V621M841.5,640V590M843.5,640V619M846.5,640V608M847.5,640V616M848.5,640V588M852.5,640V623M854.5,640V613M855.5,640V616M857.5,640V612M859.5,640V617M860.5,640V614M862.5,640V621M863.5,640V617M866.5,640V618M867.5,640V605M868.5,640V620M870.5,640V624M871.5,640V623M873.5,640V609M876.5,640V609M877.5,640V627M878.5,640V615M882.5,640V623M884.5,640V623M885.5,640V624M887.5,640V616M889.5,640V625M890.5,640V615M892.5,640V621M893.5,640V609M896.5,640V620M897.5,640V616M898.5,640V628M900.5,640V619M901.5,640V622M903.5,640V621M906.5,640V620M907.5,640V615M908.5,640V622M912.5,640V602M914.5,640V619M915.5,640V605M917.5,640V627M919.5,640V621M920.5,640V623M922.5,640V615M923.5,640V625M926.5,640V622M927.5,640V618M928.5,640V609M930.5,640V605M931.5,640V613M933.5,640V613M936.5,640V624M937.5,640V613M938.5,640V623M942.5,640V618M944.5,640V623M945.5,640V627M947.5,640V613M949.5,640V615M950.5,640V616M952.5,640V620M953.5,640V620M956.5,640V619M957.5,640V618M958.5,640V605M960.5,640V619M961.5,640V618M963.5,640V624M966.5,640V592M967.5,640V618M968.5,640V616M972.5,640V603M974.5,640V618M975.5,640V618M977.5,640V605M979.5,640V620M980.5,640V624M982.5,640V614M983.5,640V611M986.5,640V613M987.5,640V618M988.5,640V622M990.5,640V608M991.5,640V589M993.5,640V619M996.5,640V578M997.5,640V591M998.5,640V584M1002.5,640V604M1004.5,640V601M1005.5,640V595M1007.5,640V609M1009.5,640V603M1010.5,640V559M1012.5,640V604M1013.5,640V604M1016.5,640V597M1017.5,640V615M1018.5,640V605M1020.5,640V618M1021.5,640V617M1023.5,640V617M1026.5,640V579M1027.5,640V604M1028.5,640V613M1032.5,640V622M1034.5,640V610M1035.5,640V606M1037.5,640V603M1039.5,640V621M1040.5,640V610M1042.5,640V618M1043.5,640V608M1046.5,640V596M1047.5,640V612M1048.5,640V596M1050.5,640V599M1051.5,640V600M1053.5,640V554M1056.5,640V617M1057.5,640V589M1058.5,640V603M1062.5,640V592M1064.5,640V596M1065.5,640V592M1067.5,640V613M1069.5,640V601M1070.5,640V585M1072.5,640V600M1073.5,640V579M1076.5,640V589M1077.5,640V593M1078.5,640V593" stroke="#bfbfbf" stroke-width="1" fill="none" shape-rendering="crispEdges"/>
</g>
<rect x="45.5" y="486.5" width="1085.0" height="154.0" fill="none" stroke="#000" stroke-width="1.11"/>
<line x1="118.5" y1="641" x2="118.5" y2="645.5" stroke="#000" stroke-width="1" shape-rendering="crispEdges"/>
<line x1="260.5" y1="641" x2="260.5" y2="645.5" stroke="#000" stroke-width="1" shape-rendering="crispEdges"/>
<line x1="403.5" y1="641" x2="403.5" y2="645.5" stroke="#000" stroke-width="1" shape-rendering="crispEdges"/>
<line x1="545.5" y1="641" x2="545.5" y2="645.5" stroke="#000" stroke-width="1" shape-rendering="crispEdges"/>
<line x1="687.5" y1="641" x2="687.5" y2="645.5" stroke="#000" stroke-width="1" shape-rendering="crispEdges"/>
<line x1="829.5" y1="641" x2="829.5" y2="645.5" stroke="#000" stroke-width="1" shape-rendering="crispEdges"/>
<line x1="972.5" y1="641" x2="972.5" y2="645.5" stroke="#000" stroke-width="1" shape-rendering="crispEdges"/>
<line x1="1114.5" y1="641" x2="1114.5" y2="645.5" stroke="#000" stroke-width="1" shape-rendering="crispEdges"/>
<text transform="translate(92.07,658.80) scale(1.0404,0.95)" font-size="13.89" fill="#000">2019-01</text>
<text transform="translate(234.27,658.80) scale(1.0404,0.95)" font-size="13.89" fill="#000">2020-01</text>
<text transform="translate(376.87,658.80) scale(1.0404,0.95)" font-size="13.89" fill="#000">2021-01</text>
<text transform="translate(519.07,658.80) scale(1.0404,0.95)" font-size="13.89" fill="#000">2022-01</text>
<text transform="translate(661.27,658.80) scale(1.0404,0.95)" font-size="13.89" fill="#000">2023-01</text>
<text transform="translate(803.47,658.80) scale(1.0404,0.95)" font-size="13.89" fill="#000">2024-01</text>
<text transform="translate(946.07,658.80) scale(1.0404,0.95)" font-size="13.89" fill="#000">2025-01</text>
<text transform="translate(1088.27,658.80) scale(1.0404,0.95)" font-size="13.89" fill="#000">2026-01</text>
<line x1="40.1" y1="518.5" x2="45" y2="518.5" stroke="#000" stroke-width="1" shape-rendering="crispEdges"/>
<text transform="translate(26.86,522.70) scale(1.0715,0.95)" font-size="13.89" fill="#000">4</text>
<line x1="40.1" y1="579.5" x2="45" y2="579.5" stroke="#000" stroke-width="1" shape-rendering="crispEdges"/>
<text transform="translate(26.37,583.70) scale(1.1852,0.95)" font-size="13.89" fill="#000">2</text>
<line x1="40.1" y1="640.5" x2="45" y2="640.5" stroke="#000" stroke-width="1" shape-rendering="crispEdges"/>
<text transform="translate(26.59,644.70) scale(1.1296,0.95)" font-size="13.89" fill="#000">0</text>
<text transform="translate(44.93,481.80) scale(1.0136,0.95)" font-size="13.89" fill="#000">1e6</text>
<text transform="translate(18.4,586.86) rotate(-90) scale(0.9328,0.95)" font-size="13.89" fill="#000">Volume</text>
<text transform="translate(45.05,695.40) scale(0.8532,0.95)" font-size="16.67" fill="#000">SPY</text>
<text x="78.60 95.27 111.94 128.61" y="696.90" font-size="17.67" fill="#000" font-family="'Liberation Sans', 'Noto Sans CJK SC', sans-serif">交易次数</text>
<text transform="translate(145.68,695.40) scale(1.0000,0.95)" font-size="16.67" fill="#000">:</text>
<text transform="translate(155.70,695.40) scale(1.0357,0.95)" font-size="16.67" fill="#000">4</text>
<text x="44.70 61.37 78.04 94.71 111.38 128.05" y="718.10" font-size="17.67" fill="#000" font-family="'Liberation Sans', 'Noto Sans CJK SC', sans-serif">策略总收益率</text>
<text transform="translate(145.68,716.60) scale(1.0000,0.95)" font-size="16.67" fill="#000">:</text>
<text transform="translate(154.82,716.60) scale(1.0102,0.95)" font-size="16.67" fill="#000">118.73%</text>
<text x="44.70 61.37 78.04 94.71 111.38 128.05" y="736.80" font-size="17.67" fill="#000" font-family="'Liberation Sans', 'Noto Sans CJK SC', sans-serif">长期持有收益</text>
<text transform="translate(145.68,735.30) scale(1.0000,0.95)" font-size="16.67" fill="#000">:</text>
<text transform="translate(154.82,735.30) scale(1.0102,0.95)" font-size="16.67" fill="#000">115.15%</text>
<text x="44.70 61.37 78.04 94.71" y="756.80" font-size="17.67" fill="#000" font-family="'Liberation Sans', 'Noto Sans CJK SC', sans-serif">交易记录</text>
<text transform="translate(112.28,755.30) scale(1.0000,0.95)" font-size="16.67" fill="#000">:</text>
<text transform="translate(54.90,772.70) scale(0.9524,0.95)" font-size="16.67" fill="#000">Buy Date</text>
<text transform="translate(129.90,772.70) scale(0.9534,0.95)" font-size="16.67" fill="#000">Buy Price</text>
<text transform="translate(207.36,772.70) scale(0.9767,0.95)" font-size="16.67" fill="#000">Sell Date</text>
<text transform="translate(283.77,772.70) scale(0.9621,0.95)" font-size="16.67" fill="#000">Sell Price</text>
<text transform="translate(361.19,772.70) scale(0.9612,0.95)" font-size="16.67" fill="#000">Holding Days</text>
<text transform="translate(465.49,772.70) scale(0.9610,0.95)" font-size="16.67" fill="#000">Profit %</text>
<text transform="translate(44.82,789.70) scale(1.0466,0.95)" font-size="16.67" fill="#000">2020-10-06</text>
<text transform="translate(159.72,789.70) scale(1.0654,0.95)" font-size="16.67" fill="#000">312.15</text>
<text transform="translate(218.92,789.70) scale(1.0536,0.95)" font-size="16.67" fill="#000">2021-05-11</text>
<text transform="translate(338.91,789.70) scale(1.0821,0.95)" font-size="16.67" fill="#000">388.98</text>
<text transform="translate(449.01,789.70) scale(1.0637,0.95)" font-size="16.67" fill="#000">217</text>
<text transform="translate(504.21,789.70) scale(1.0608,0.95)" font-size="16.67" fill="#000">24.61</text>
<text transform="translate(44.82,806.60) scale(1.0466,0.95)" font-size="16.67" fill="#000">2021-06-18</text>
<text transform="translate(159.72,806.60) scale(1.0654,0.95)" font-size="16.67" fill="#000">390.96</text>
<text transform="translate(218.92,806.60) scale(1.0536,0.95)" font-size="16.67" fill="#000">2024-04-04</text>
<text transform="translate(338.88,806.60) scale(1.0821,0.95)" font-size="16.67" fill="#000">503.80</text>
<text transform="translate(443.25,806.60) scale(1.0637,0.95)" font-size="16.67" fill="#000">1021</text>
<text transform="translate(508.91,806.60) scale(1.0608,0.95)" font-size="16.67" fill="#000">28.86</text>
<text transform="translate(44.82,824.30) scale(1.0466,0.95)" font-size="16.67" fill="#000">2024-04-15</text>
<text transform="translate(159.99,824.30) scale(1.0654,0.95)" font-size="16.67" fill="#000">495.36</text>
<text transform="translate(218.92,824.30) scale(1.0536,0.95)" font-size="16.67" fill="#000">2025-02-21</text>
<text transform="translate(338.88,824.30) scale(1.0821,0.95)" font-size="16.67" fill="#000">594.81</text>
<text transform="translate(449.22,824.30) scale(1.0637,0.95)" font-size="16.67" fill="#000">312</text>
<text transform="translate(504.21,824.30) scale(1.0608,0.95)" font-size="16.67" fill="#000">20.08</text>
<text transform="translate(44.82,841.00) scale(1.0466,0.95)" font-size="16.67" fill="#000">2025-02-24</text>
<text transform="translate(159.69,841.00) scale(1.0654,0.95)" font-size="16.67" fill="#000">592.04</text>
<text transform="translate(218.92,841.00) scale(1.0536,0.95)" font-size="16.67" fill="#000">2025-10-06</text>
<text transform="translate(338.68,841.00) scale(1.0821,0.95)" font-size="16.67" fill="#000">671.58</text>
<text transform="translate(449.01,841.00) scale(1.0637,0.95)" font-size="16.67" fill="#000">223</text>
<text transform="translate(503.75,841.00) scale(1.0608,0.95)" font-size="16.67" fill="#000">13.44</text>
</svg></body></html>
